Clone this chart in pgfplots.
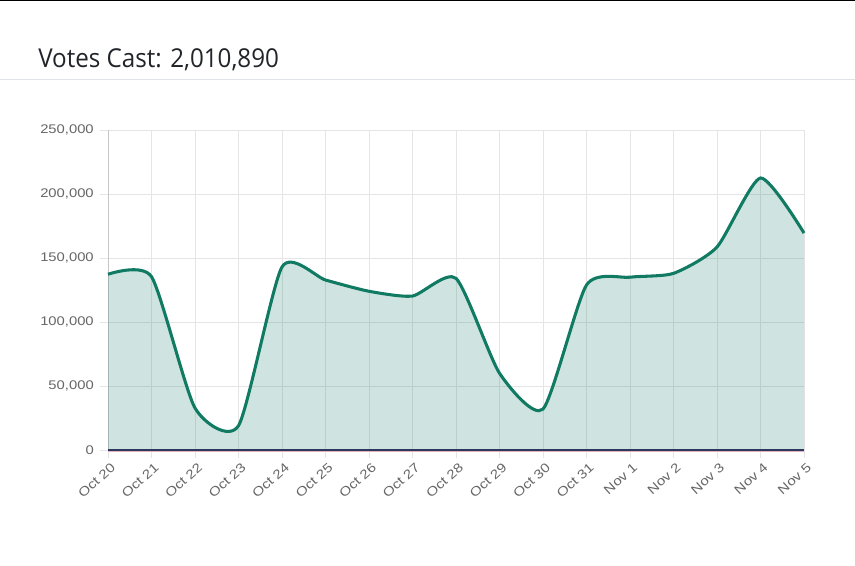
\documentclass[border=0pt]{standalone}
\usepackage{pgfplots}
\pgfplotsset{compat=1.18}
\usepackage{fontspec}
\setmainfont{Liberation Sans}
\newfontfamily\tickfont[FakeStretch=1.18]{Liberation Sans}
\newfontfamily\titlefont[FakeStretch=0.93]{Open Sans}
\definecolor{lineC}{RGB}{16,122,98}
\definecolor{gridC}{RGB}{229,229,229}
\definecolor{labelC}{RGB}{102,102,102}
\definecolor{titleC}{RGB}{33,37,41}
\definecolor{sepC}{RGB}{224,227,231}
\definecolor{navyC}{RGB}{44,56,96}
\definecolor{pinkC}{RGB}{232,176,186}
\begin{document}
\begin{tikzpicture}[x=0.75pt,y=0.75pt]
\path[use as bounding box] (0,0) rectangle (855,565);
\fill[black] (0,563.5) rectangle (855,565);
\draw[sepC, line width=0.75pt] (0,485) -- (855,485);
\node[anchor=base west, inner sep=0pt, text=titleC, font=\titlefont\fontsize{19.5pt}{22pt}\selectfont] at (38,497) {Votes Cast: 2,010,890};
\begin{axis}[
  at={(81pt,86.25pt)}, anchor=south west,
  scale only axis, width=522pt, height=240pt,
  xmin=0, xmax=16, ymin=0, ymax=250000,
  xtick={0,...,16},
  xticklabels={Oct 20,Oct 21,Oct 22,Oct 23,Oct 24,Oct 25,Oct 26,Oct 27,Oct 28,Oct 29,Oct 30,Oct 31,Nov 1,Nov 2,Nov 3,Nov 4,Nov 5},
  ytick={0,50000,100000,150000,200000,250000},
  yticklabels={0,{50,000},{100,000},{150,000},{200,000},{250,000}},
  scaled y ticks=false,
  grid=major,
  major grid style={gridC, line width=0.75pt},
  tick style={gridC, line width=0.75pt},
  tick align=outside, major tick length=6pt,
  xtick pos=bottom, ytick pos=left,
  axis line style={draw=none},
  yticklabel style={font=\tickfont\fontsize{9.4pt}{11pt}\selectfont, text=labelC, anchor=east, inner sep=0pt, xshift=-4.5pt},
  xticklabel style={font=\tickfont\fontsize{9.6pt}{11pt}\selectfont, text=labelC, inner sep=0pt, xshift=4pt, yshift=-5.5pt, rotate=42, anchor=east},
  clip=false,
]
\draw[gray!45, line width=0.75pt] (axis cs:0,0) -- (axis cs:0,250000);
\addplot[draw=none, fill=lineC, fill opacity=0.2, smooth, tension=0.38] coordinates {
(0,137300) (1,135400) (2,32800) (3,19000) (4,143000) (5,132800) (6,124000) (7,120300) (8,134100) (9,60000) (10,32000) (11,128900) (12,135000) (13,138000) (14,158600) (15,212500) (16,169500)
} \closedcycle;
\addplot[pinkC, line width=1pt, yshift=-1.3pt] coordinates {(0,0) (1,0) (2,0) (3,0) (4,0) (5,0) (6,0) (7,0) (8,0) (9,0) (10,0) (11,0) (12,0) (13,0) (14,0) (15,0) (16,0)};
\addplot[navyC, line width=1.6pt] coordinates {(0,0) (1,0) (2,0) (3,0) (4,0) (5,0) (6,0) (7,0) (8,0) (9,0) (10,0) (11,0) (12,0) (13,0) (14,0) (15,0) (16,0)};
\addplot[lineC, line width=2.3pt, smooth, tension=0.38] coordinates {
(0,137300) (1,135400) (2,32800) (3,19000) (4,143000) (5,132800) (6,124000) (7,120300) (8,134100) (9,60000) (10,32000) (11,128900) (12,135000) (13,138000) (14,158600) (15,212500) (16,169500)
};
\end{axis}
\end{tikzpicture}
\end{document}
